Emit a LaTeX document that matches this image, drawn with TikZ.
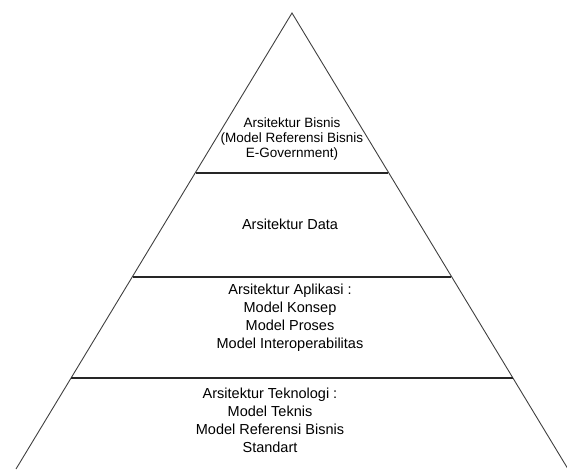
\documentclass[tikz,border=0pt]{standalone}
\usepackage{fontspec}
\setmainfont{Liberation Sans}
\begin{document}
\begin{tikzpicture}[x=1pt, y=-1pt,
  slope/.style={line width=0.9pt, black!75},
  tier/.style={line width=1.3pt, black!85},
  tiertext/.style={align=center, inner sep=0pt, font=\fontsize{14.5}{18}\selectfont},
  toptext/.style={tiertext, font=\fontsize{13.5}{15}\selectfont},
]
\useasboundingbox (0,0) rectangle (567,469);

% outline of the pyramid
\coordinate (apex) at (292,13);
\coordinate (baseL) at (16,469);
\coordinate (baseR) at (568,469);
\draw[slope] (baseL) -- (apex) -- (baseR);

% dividing lines between the layers
\coordinate (t1L) at (196,173);
\coordinate (t1R) at (388,173);
\coordinate (t2L) at (133,277);
\coordinate (t2R) at (451,277);
\coordinate (t3L) at (71,378);
\coordinate (t3R) at (513,378);
\draw[tier] (t1L) -- (t1R);
\draw[tier] (t2L) -- (t2R);
\draw[tier] (t3L) -- (t3R);

% layer texts
\node[toptext] (bisnis) at (292,139) {Arsitektur Bisnis\\(Model Referensi Bisnis\\E-Government)};
\node[tiertext] (data) at (290,224) {Arsitektur Data};
\node[tiertext] (aplikasi) at (290,318) {Arsitektur Aplikasi :\\Model Konsep\\Model Proses\\Model Interoperabilitas};
\node[tiertext] (teknologi) at (270,420) {Arsitektur Teknologi :\\Model Teknis\\Model Referensi Bisnis\\Standart};

\end{tikzpicture}
\end{document}
